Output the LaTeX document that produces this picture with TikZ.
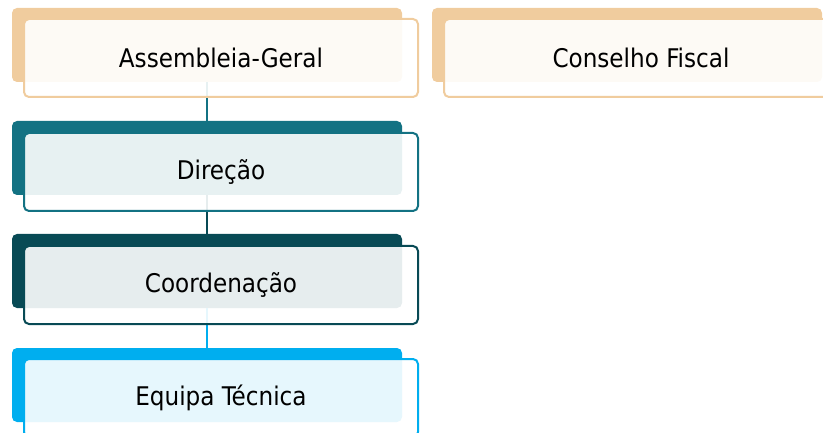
\documentclass[tikz,border=0pt]{standalone}
\usepackage{fontspec}
\setmainfont{DejaVu Sans Condensed}
\definecolor{tan}{HTML}{F0CC9E}
\definecolor{teal}{HTML}{137283}
\definecolor{darkteal}{HTML}{084A55}
\definecolor{skyb}{HTML}{00AEEF}
\tikzset{
  backbox/.style={rectangle, rounded corners=5pt, minimum width=390pt, minimum height=74pt, inner sep=0pt, fill=#1},
  frontbox/.style={rectangle, rounded corners=5pt, minimum width=394pt, minimum height=78pt, inner sep=0pt,
     draw=#1, line width=2pt, fill=white, fill opacity=0.9, text opacity=1, font=\fontsize{25.7pt}{29pt}\selectfont},
  link/.style={line width=2pt, draw=#1}
}
\begin{document}
\begin{tikzpicture}[x=1pt,y=-1pt]
\useasboundingbox (0,0) rectangle (823,433);
\clip (0,0) rectangle (823,433);
% back boxes
\node[backbox=tan] (agB) at (207,45) {};
\node[backbox=tan] (cfB) at (627,45) {};
\node[backbox=teal] (dirB) at (207,158) {};
\node[backbox=darkteal] (coB) at (207,271) {};
\node[backbox=skyb] (eqB) at (207,385) {};
% connectors
\draw[link=teal] (agB.south) -- (dirB.north);
\draw[link=darkteal] (dirB.south) -- (coB.north);
\draw[link=skyb] (coB.south) -- (eqB.north);
% front boxes
\node[frontbox=tan] (ag) at (221,58) {\raisebox{1pt}{Assembleia-Geral}};
\node[frontbox=tan] (cf) at (641,58) {\raisebox{1pt}{Conselho Fiscal}};
\node[frontbox=teal] (dir) at (221,172) {\raisebox{1pt}{Direção}};
\node[frontbox=darkteal] (co) at (221,285) {\raisebox{1pt}{Coordenação}};
\node[frontbox=skyb] (eq) at (221,398) {\raisebox{1pt}{Equipa Técnica}};
\end{tikzpicture}
\end{document}
